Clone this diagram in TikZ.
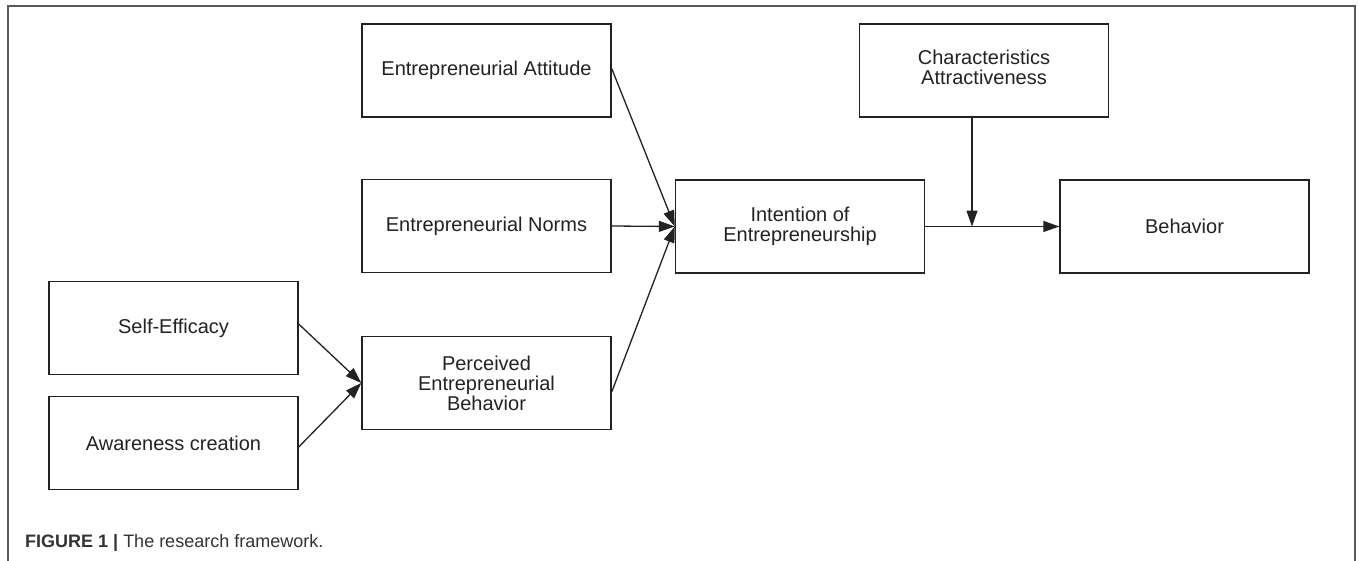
\documentclass[tikz,border=0pt]{standalone}
\usepackage{fontspec}
\setmainfont{Liberation Sans}
\usetikzlibrary{arrows.meta,calc}
\definecolor{txt}{HTML}{222222}
\definecolor{frame}{HTML}{5A5A5A}
\definecolor{cap}{HTML}{333333}
\begin{document}
\begin{tikzpicture}[x=1pt,y=-1pt,
  box/.style={draw=txt, line width=1.4pt, minimum width=249pt, minimum height=93pt,
    inner sep=0pt, align=center, text=txt, font=\fontsize{20}{20}\selectfont},
  conn/.style={draw=txt, line width=1.3pt, -{Triangle[length=16pt,width=11pt]}}]
\useasboundingbox (0,0) rectangle (1358,560);
\draw[frame, line width=1.2pt] (8,562) -- (8,6) -- (1355,6) -- (1355,562);

\node[box] (att) at (486.5,70.5) {Entrepreneurial Attitude};
\node[box] (norm) at (486.5,226) {Entrepreneurial Norms};
\node[box] (se) at (173.5,328) {Self-Efficacy};
\node[box] (aw) at (173.5,443) {Awareness creation};
\node[box] (per) at (486.5,383) {Perceived\\Entrepreneurial\\Behavior};
\node[box] (int) at (800,226.5) {Intention of\\Entrepreneurship};
\node[box] (cha) at (984,70.5) {\raisebox{4pt}{\begin{tabular}{@{}c@{}}Characteristics\\Attractiveness\end{tabular}}};
\node[box] (beh) at (1184.5,226.5) {Behavior};

\coordinate (m) at (972,226.5);

\draw[conn] ([yshift=2pt]att.east) -- (int.west);
\draw[conn] (norm.east) -- (int.west);
\draw[conn] ([yshift=-9pt]per.east) -- (int.west);
\draw[conn] ([yshift=4pt]se.east) -- (per.west);
\draw[conn] ([yshift=-4pt]aw.east) -- (per.west);
\draw[conn] (int.east) -- (beh.west);
\draw[conn] (cha.south -| m) -- (m);

\node[anchor=base west, inner sep=0pt, text=cap, font=\fontsize{18}{20}\selectfont] (caption) at (25,547)
  {\textbf{FIGURE 1 |} The research framework.};
\end{tikzpicture}
\end{document}
